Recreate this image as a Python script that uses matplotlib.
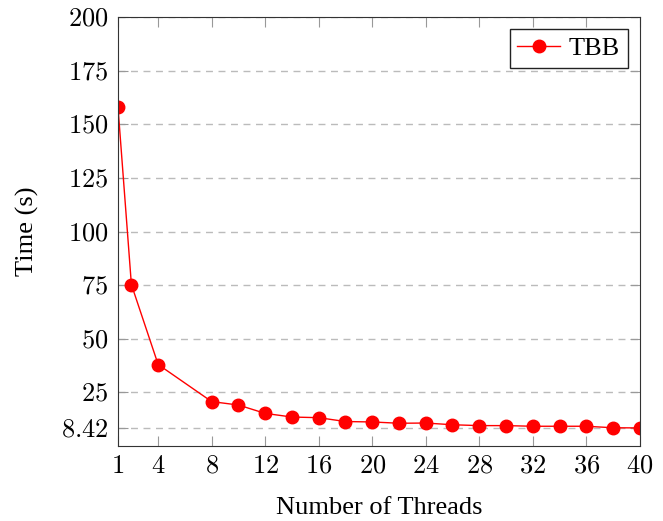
import matplotlib
matplotlib.use("Agg")
import matplotlib.pyplot as plt

threads = [1, 2, 4, 8, 10, 12, 14, 16, 18, 20, 22, 24, 26, 28, 30, 32, 34, 36, 38, 40]
times = [157.9, 75.3, 38.0, 20.7, 19.1, 15.2, 13.5, 13.2, 11.4, 11.2, 10.6, 10.7,
         9.9, 9.5, 9.5, 9.2, 9.2, 9.2, 8.5, 8.42]
xticks = [1, 4, 8, 12, 16, 20, 24, 28, 32, 36, 40]
yticks = [8.42, 25, 50, 75, 100, 125, 150, 175, 200]
ytick_labels = ["8.42", "25", "50", "75", "100", "125", "150", "175", "200"]

plt.rcParams['font.family'] = ['Liberation Serif', 'DejaVu Serif']
plt.rcParams['mathtext.fontset'] = 'cm'

fig = plt.figure(figsize=(6.63, 5.21), dpi=100)
ax = fig.add_axes([0.178, 0.144, 0.787, 0.823])

ax.plot(threads, times, color='red', marker='o', markersize=9, linewidth=1, label='TBB')

ax.set_xlim(1, 40)
ax.set_ylim(0, 200)
ax.set_xticks(xticks)
ax.set_xticklabels(['$%d$' % t for t in xticks])
ax.set_yticks(yticks)
ax.set_yticklabels(['$%s$' % s for s in ytick_labels])
ax.tick_params(axis='both', direction='in', labelsize=19, length=7.5, color='#999999',
               top=True, right=True, pad=7)
ax.yaxis.grid(True, linestyle=(0, (5, 4)), color='#bbbbbb', linewidth=1)
ax.set_axisbelow(True)
for s in ax.spines.values():
    s.set_color('#333333')

ax.set_xlabel('Number of Threads', fontsize=19, labelpad=14)
ax.set_ylabel('Time (s)', fontsize=19, labelpad=16)

leg = ax.legend(loc='upper right', fontsize=19, fancybox=False, framealpha=1,
                edgecolor='#222222', handlelength=1.6, handletextpad=0.35,
                borderpad=0.3, borderaxespad=0.45)
leg.get_frame().set_linewidth(1)

fig.savefig('out.png', dpi=100)
